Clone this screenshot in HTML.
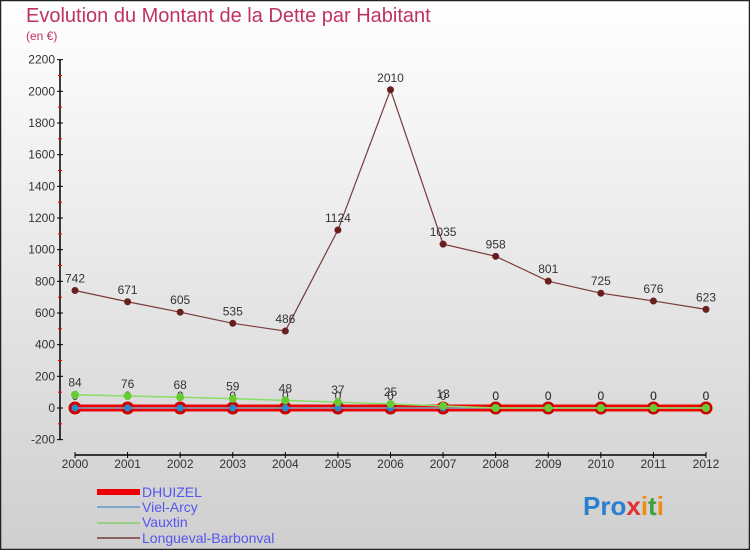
<!DOCTYPE html>
<html><head><meta charset="utf-8">
<style>
html,body{margin:0;padding:0;}
body{width:750px;height:550px;overflow:hidden;font-family:"Liberation Sans",sans-serif;}
</style></head>
<body>
<svg id="chart" width="750" height="550" xmlns="http://www.w3.org/2000/svg">
<defs><linearGradient id="bg" x1="0" y1="0" x2="0" y2="1"><stop offset="0" stop-color="#ffffff"/><stop offset="1" stop-color="#cfcfcf"/></linearGradient></defs>
<rect x="0.5" y="0.5" width="749" height="549" fill="url(#bg)" stroke="#222" stroke-width="1.5"/>
<text x="26" y="22" font-size="20" fill="#c0335e">Evolution du Montant de la Dette par Habitant</text>
<text x="26" y="40" font-size="12" fill="#c0335e">(en €)</text>
<g id="axes"></g><g id="series"></g>
<g font-size="14" fill="#5555ee">
<rect x="97" y="489" width="43" height="6" fill="#ee0000"/>
<text x="142" y="497">DHUIZEL</text>
<line x1="97" x2="140" y1="507" y2="507" stroke="#7fa8c8" stroke-width="2"/>
<text x="142" y="512">Viel-Arcy</text>
<line x1="97" x2="140" y1="523" y2="523" stroke="#99d080" stroke-width="2"/>
<text x="142" y="527">Vauxtin</text>
<line x1="97" x2="140" y1="538" y2="538" stroke="#8a6060" stroke-width="2"/>
<text x="142" y="543">Longueval-Barbonval</text>
</g>
<text x="583" y="515" font-size="26" font-weight="bold"><tspan fill="#2a7fd0">Pro</tspan><tspan fill="#e03030">x</tspan><tspan fill="#f08a10">i</tspan><tspan fill="#40a040">t</tspan><tspan fill="#f08a10">i</tspan></text>
</svg>
<script>
const years=[2000,2001,2002,2003,2004,2005,2006,2007,2008,2009,2010,2011,2012];
const dhuizel=[0,0,0,0,0,0,0,0,0,0,0,0,0];
const vielArcy=[0,0,0,0,0,0,0,0,0,0,0,0,0];
const vauxtin=[84,76,68,59,48,37,25,13,0,0,0,0,0];
const longueval=[742,671,605,535,486,1124,2010,1035,958,801,725,676,623];
const yTicks=[-200,0,200,400,600,800,1000,1200,1400,1600,1800,2000,2200];
const NS="http://www.w3.org/2000/svg";
const x=i=>75+i*(706-75)/(years.length-1);
const y=v=>408-v*(380/2400);
function mk(tag,attrs,parent,txt){const e=document.createElementNS(NS,tag);for(const k in attrs)e.setAttribute(k,attrs[k]);if(txt!==undefined)e.textContent=txt;parent.appendChild(e);return e;}
const ax=document.getElementById('axes');
let a=mk('line',{x1:60,x2:60,y1:y(2200),y2:y(-200),stroke:'#000','stroke-width':1.5},ax);


a=mk('line',{x1:75,x2:706,y1:455,y2:455,stroke:'#000','stroke-width':1.5},ax);


yTicks.forEach(t=>{
 mk('line',{x1:57,x2:63,y1:y(t),y2:y(t),stroke:'#000'},ax);
 if(t<2200) mk('line',{x1:58,x2:62,y1:y(t+100),y2:y(t+100),stroke:'#e00'},ax);
 const l=mk('text',{x:55,y:y(t)+4,'font-size':12,'text-anchor':'end',fill:'#333'},ax,String(t));
 
 
});
years.forEach((yr,i)=>{
 mk('line',{x1:x(i),x2:x(i),y1:452,y2:458,stroke:'#000'},ax);
 const l=mk('text',{x:x(i),y:468,'font-size':12,'text-anchor':'middle',fill:'#333'},ax,String(yr));
 
 
});
const sg=document.getElementById('series');
function series(name,vals,color,width,dotR,dotFill,dotStroke,dotSW,labels){
 const g=mk('g',{},sg);
 
 
 const p=mk('polyline',{points:vals.map((v,i)=>x(i)+','+y(v)).join(' '),fill:'none',stroke:color,'stroke-width':width},g);
 
 
 vals.forEach((v,i)=>{
  const c=mk('circle',{cx:x(i),cy:y(v),r:dotR,fill:dotFill,stroke:dotStroke,'stroke-width':dotSW},g);
  
  
  if(labels){
   const t=mk('text',{x:x(i),y:y(v)-8,'font-size':12,'text-anchor':'middle',fill:'#333'},g,String(v));
   
   
  }
 });
}
series('dhuizel',dhuizel,'#ee0000',7,5,'#ee0000','#cc0000',3,false);
series('viel-arcy',vielArcy,'#7fa8c8',1.5,3.5,'#2a88d0','none',0,true);
series('vauxtin',vauxtin,'#88dd66',1.5,4,'#66cc33','none',0,true);
series('longueval',longueval,'#7a3a3a',1.2,3.5,'#6a1f1f','none',0,true);
</script>
</body></html>
